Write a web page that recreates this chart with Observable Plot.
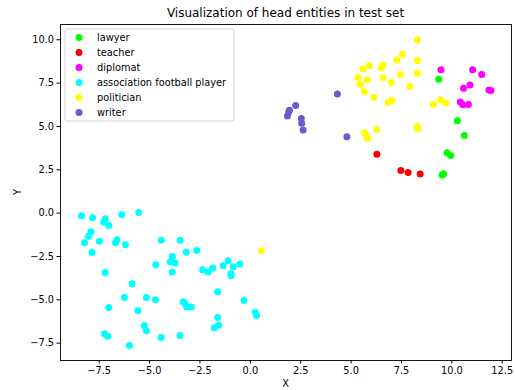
<!DOCTYPE html>
<html>
<head>
<meta charset="utf-8">
<script src="https://cdn.jsdelivr.net/npm/d3@7"></script>
<script src="https://cdn.jsdelivr.net/npm/@observablehq/plot@0.6"></script>
<style>
  html, body { margin: 0; padding: 0; background: #fff; }
  svg { font-family: "DejaVu Sans", sans-serif; }
</style>
</head>
<body>
<div id="chart"></div>
<script>
const categories = ["lawyer", "teacher", "diplomat", "association football player", "politician", "writer"];
const colors = ["#00ff00", "#ff0000", "#ff00ff", "#00ffff", "#ffff00", "#6a5acd"];

const lawyerX = [9.35, 10.27, 10.62, 9.76, 9.94, 9.59, 9.52];
const lawyerY = [7.72, 5.33, 4.48, 3.48, 3.33, 2.27, 2.2];

const teacherX = [6.28, 7.47, 7.83, 8.43];
const teacherY = [3.40, 2.46, 2.35, 2.25];

const diplomatX = [9.46, 11.03, 11.48, 10.90, 10.58, 11.84, 11.94, 10.42, 10.55, 10.82];
const diplomatY = [8.27, 8.27, 7.99, 7.39, 7.21, 7.10, 7.08, 6.41, 6.25, 6.27];

const footballX = [-8.38, -7.83, -7.20, -7.27, -7.02, -6.38, -5.54, -7.91, -8.03, -8.23,
  -7.49, -6.62, -6.69, -6.20, -7.86, -7.20, -5.87, -4.42, -3.48, -3.87,
  -3.97, -3.74, -3.18, -2.66, -4.69, -3.87, -2.37, -2.10, -1.87, -1.35,
  -1.10, -0.85, -0.52, -0.97, -0.95, -1.62, -0.32, 0.24, 0.31, -6.25,
  -5.16, -4.71, -7.02, -5.58, -3.33, -3.23, -3.16, -2.93, -1.62, -1.57,
  -1.79, -5.26, -5.16, -7.24, -7.07, -4.43, -3.49, -6.00];
const footballY = [-0.15, -0.27, -0.33, -0.52, -0.71, -0.09, 0.04, -1.07, -1.34, -1.71,
  -1.62, -1.54, -1.71, -1.82, -2.27, -3.42, -4.08, -1.56, -1.56, -2.50,
  -2.81, -2.88, -2.25, -2.15, -2.98, -3.40, -3.27, -3.40, -3.17, -3.04,
  -2.75, -3.09, -2.94, -3.50, -3.61, -4.54, -5.04, -5.71, -5.90, -4.86,
  -4.86, -5.00, -5.44, -5.63, -5.11, -5.23, -5.42, -5.42, -6.02, -6.46,
  -6.61, -6.48, -6.79, -6.96, -7.10, -7.17, -7.06, -7.63];

const politicianX = [8.29, 7.55, 7.27, 8.29, 5.90, 5.58, 6.58, 6.51, 8.29, 7.45,
  5.34, 5.80, 6.59, 7.00, 5.47, 7.91, 5.65, 6.13, 6.84, 7.02,
  9.08, 9.43, 9.71, 6.28, 5.67, 5.75, 5.83, 8.29, 8.31, 0.54];
const politicianY = [10.0, 9.16, 8.83, 8.79, 8.52, 8.31, 8.54, 8.37, 8.08, 7.99,
  7.81, 7.70, 7.81, 7.54, 7.42, 7.31, 7.00, 6.69, 6.40, 6.50,
  6.27, 6.54, 6.35, 4.83, 4.64, 4.48, 4.31, 5.00, 4.87, -2.17];

const writerX = [4.32, 2.25, 1.94, 1.91, 1.84, 2.53, 2.55, 2.62, 4.79];
const writerY = [6.87, 6.21, 5.94, 5.85, 5.60, 5.46, 5.18, 4.79, 4.41];

const xTicks = [-7.5, -5.0, -2.5, 0.0, 2.5, 5.0, 7.5, 10.0, 12.5];
const yTicks = [-7.5, -5.0, -2.5, 0.0, 2.5, 5.0, 7.5, 10.0];

const seriesX = [lawyerX, teacherX, diplomatX, footballX, politicianX, writerX];
const seriesY = [lawyerY, teacherY, diplomatY, footballY, politicianY, writerY];
const points = [];
categories.forEach((c, i) => {
  seriesX[i].forEach((x, j) => points.push({ category: c, x, y: seriesY[i][j] }));
});

const W = 515, H = 390;
const mL = 60, mR = 4, mT = 24, mB = 30;
const FS = 9.8;

const plot = Plot.plot({
  width: W,
  height: H,
  marginLeft: mL,
  marginRight: mR,
  marginTop: mT,
  marginBottom: mB,
  style: { fontFamily: "DejaVu Sans, sans-serif", fontSize: FS + "px", color: "#000", background: "#fff" },
  x: { domain: [-9.42, 12.96], ticks: xTicks, tickFormat: d3.format(".1f"), label: null },
  y: { domain: [-8.5, 10.88], ticks: yTicks, tickFormat: d3.format(".1f"), label: null },
  color: { domain: categories, range: colors },
  marks: [
    Plot.dot(points, { x: "x", y: "y", fill: "category", r: 3.5, stroke: "none" }),
    Plot.frame({ stroke: "#000", strokeWidth: 0.9 }),
    Plot.axisX({ ticks: xTicks, tickFormat: d3.format(".1f"), tickSize: 3.5, tickPadding: 3, label: null, fontSize: FS }),
    Plot.axisY({ ticks: yTicks, tickFormat: d3.format(".1f"), tickSize: 3.5, tickPadding: 3, label: null, fontSize: FS })
  ]
});

document.getElementById("chart").appendChild(plot);

const svg = d3.select(plot);
const cx = (mL + (W - mR)) / 2;
const cy = (mT + (H - mB)) / 2;

svg.append("text")
  .attr("x", cx).attr("y", 17)
  .attr("text-anchor", "middle")
  .attr("font-size", 12)
  .attr("fill", "#000")
  .text("Visualization of head entities in test set");

svg.append("text")
  .attr("x", cx).attr("y", 387)
  .attr("text-anchor", "middle")
  .attr("font-size", FS)
  .attr("fill", "#000")
  .text("X");

svg.append("text")
  .attr("transform", `translate(21,${cy}) rotate(-90)`)
  .attr("text-anchor", "middle")
  .attr("font-size", FS)
  .attr("fill", "#000")
  .text("Y");

const lg = svg.append("g").attr("transform", "translate(65,29)");
lg.append("rect")
  .attr("width", 169).attr("height", 92)
  .attr("rx", 2)
  .attr("fill", "#fff").attr("fill-opacity", 0.8)
  .attr("stroke", "#cccccc").attr("stroke-width", 0.9);
categories.forEach((c, i) => {
  const yy = 8.5 + i * 15;
  lg.append("circle").attr("cx", 14).attr("cy", yy).attr("r", 3.5).attr("fill", colors[i]);
  lg.append("text").attr("x", 32).attr("y", yy).attr("dy", "0.35em")
    .attr("text-anchor", "start")
    .attr("font-size", FS).attr("fill", "#000").text(c);
});
</script>
</body>
</html>
